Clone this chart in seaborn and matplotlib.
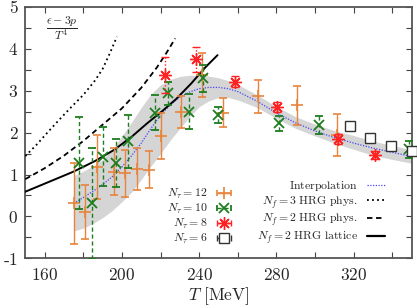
import numpy as np
import matplotlib
matplotlib.use("Agg")
import matplotlib.pyplot as plt
import seaborn as sns
from matplotlib.ticker import MultipleLocator, FuncFormatter
from matplotlib.container import ErrorbarContainer
from matplotlib.legend_handler import HandlerErrorbar
from matplotlib.lines import Line2D

# ---------------- data ----------------
# N_tau = 12
t12 = [175.2, 181.1, 187.0, 196.0, 201.7, 207.7, 214.2, 220.3, 230.7, 241.4, 252.1, 270.7, 290.6, 311.3]
v12 = [0.31, 0.11, 1.18, 1.07, 1.03, 1.13, 1.11, 1.93, 2.50, 3.38, 2.48, 2.87, 2.65, 1.95]
e12 = [0.96, 0.64, 0.77, 0.56, 0.56, 0.50, 0.44, 0.55, 0.38, 0.52, 0.34, 0.39, 0.47, 0.50]
# N_tau = 10
t10 = [178.0, 184.4, 190.4, 197.0, 203.4, 217.2, 224.1, 234.5, 242.2, 249.5, 281.1, 302.2, 348.8]
v10 = [1.27, 0.31, 1.43, 1.28, 1.79, 2.48, 2.94, 2.50, 3.30, 2.42, 2.22, 2.18, 1.60]
e10 = [1.10, 1.32, 0.70, 0.58, 0.63, 0.41, 0.28, 0.42, 0.32, 0.20, 0.18, 0.22, 0.20]
# N_tau = 8
t8 = [222.4, 238.4, 258.3, 280.3, 311.9, 331.2]
v8 = [3.38, 3.75, 3.22, 2.62, 1.84, 1.47]
e8 = [0.43, 0.30, 0.13, 0.12, 0.12, 0.10]
# N_tau = 6
t6 = [318.2, 328.6, 339.5, 350.0]
v6 = [2.17, 1.88, 1.69, 1.56]
e6 = [0.05, 0.05, 0.05, 0.05]

# interpolation and its band
it = [175, 180, 185, 190, 195, 200, 205, 210, 215, 220, 225, 230, 235, 240, 245, 250,
      255, 260, 270, 280, 290, 300, 310, 320, 330, 340, 350]
iv = [0.31, 0.45, 0.60, 0.76, 0.95, 1.18, 1.45, 1.75, 2.10, 2.42, 2.66, 2.85, 2.97, 3.05,
      3.08, 3.08, 3.05, 2.98, 2.75, 2.47, 2.23, 2.04, 1.88, 1.75, 1.63, 1.53, 1.43]
ilo = [-0.35, -0.28, -0.17, -0.03, 0.14, 0.35, 0.58, 0.88, 1.20, 1.50, 1.82, 2.10, 2.38,
       2.62, 2.76, 2.84, 2.84, 2.78, 2.60, 2.34, 2.10, 1.92, 1.75, 1.60, 1.46, 1.36, 1.27]
ihi = [0.97, 1.08, 1.20, 1.36, 1.60, 1.92, 2.25, 2.60, 2.92, 3.14, 3.27, 3.34, 3.37, 3.37,
       3.35, 3.31, 3.24, 3.15, 2.90, 2.62, 2.38, 2.20, 2.05, 1.93, 1.80, 1.69, 1.59]

# HRG curves
hrg3_t = [150, 156, 162, 168, 174, 180, 186, 190, 194, 197.4]
hrg3_v = [1.44, 1.72, 2.03, 2.33, 2.62, 2.90, 3.24, 3.52, 3.92, 4.29]
hrg2p_t = [150, 160, 170, 180, 190, 200, 210, 218, 223, 227.6]
hrg2p_v = [0.89, 1.15, 1.45, 1.80, 2.19, 2.58, 3.07, 3.55, 3.90, 4.25]
hrg2l_t = [150, 162, 175, 186, 196, 205, 213, 221, 228, 236, 243, 249.5]
hrg2l_v = [0.59, 0.82, 1.07, 1.32, 1.59, 1.90, 2.22, 2.52, 2.80, 3.18, 3.55, 3.85]

labels_nt = [r"$N_\tau = 12$", r"$N_\tau = 10$", r"$N_\tau = 8$", r"$N_\tau = 6$"]
labels_lines = [r"$\mathrm{Interpolation}$", r"$N_f = 3\ \mathrm{HRG\ phys.}$",
                r"$N_f = 2\ \mathrm{HRG\ phys.}$", r"$N_f = 2\ \mathrm{HRG\ lattice}$"]

# ---------------- styling ----------------
sns.set_theme(style="ticks")
plt.rcParams["font.family"] = ["DejaVu Serif"]
plt.rcParams["mathtext.fontset"] = "cm"

orange = "#E8843C"
green = "#1E7D1E"
red = "#FF2222"
blue = "#4848F0"
sq = "#333333"

fig = plt.figure(figsize=(4.17, 3.08), dpi=100)
ax = fig.add_axes([0.0607, 0.1614, 0.9266, 0.8159])

ax.fill_between(it, ilo, ihi, color="#d5d5d5", lw=0, zorder=1)
sns.lineplot(x=it, y=iv, ax=ax, color=blue, lw=0.9, linestyle=(0, (1, 1.2)), zorder=2,
             estimator=None, errorbar=None)
sns.lineplot(x=hrg3_t, y=hrg3_v, ax=ax, color="black", lw=1.3, linestyle=(0, (1, 1.8)),
             zorder=3, estimator=None, errorbar=None)
sns.lineplot(x=hrg2p_t, y=hrg2p_v, ax=ax, color="black", lw=1.3, linestyle=(0, (3, 2)),
             zorder=3, estimator=None, errorbar=None)
sns.lineplot(x=hrg2l_t, y=hrg2l_v, ax=ax, color="black", lw=1.4, linestyle="-",
             zorder=3, estimator=None, errorbar=None)

star = (8, 2, 0)
e = ax.errorbar(t12, v12, yerr=e12, fmt="+", color=orange, ms=8, mew=1.2,
                elinewidth=1.0, capsize=3, capthick=1.0, zorder=5)
e = ax.errorbar(t10, v10, yerr=e10, fmt="x", color=green, ms=6.5, mew=1.3,
                elinewidth=1.0, capsize=3, capthick=1.0, zorder=6)
e[2][0].set_linestyle((0, (3, 2)))
e = ax.errorbar(t8, v8, yerr=e8, marker=star, linestyle="none", color=red, ms=9, mew=1.0,
                elinewidth=1.0, capsize=3, capthick=1.0, zorder=7)
e[2][0].set_linestyle((0, (1, 1.5)))
e = ax.errorbar(t6, v6, yerr=e6, marker="s", linestyle="none", color=sq, mfc="white",
                ms=6.5, mew=1.0, elinewidth=0.8, capsize=1.5, capthick=0.8, zorder=8,
                clip_on=False)

# dummy handles (outside the view) for gnuplot-like horizontal legend samples
d12 = ax.errorbar([0], [0], xerr=[1], fmt="+", color=orange, ms=8, mew=1.2,
                  elinewidth=1.0, capsize=2.5)
d10 = ax.errorbar([0], [0], xerr=[1], fmt="x", color=green, ms=6.5, mew=1.3,
                  elinewidth=1.0, capsize=2.5)
d10[2][0].set_linestyle((0, (3, 2)))
d8 = ax.errorbar([0], [0], xerr=[1], marker=star, linestyle="none", color=red, ms=9,
                 mew=1.0, elinewidth=1.0, capsize=2.5)
d8[2][0].set_linestyle((0, (1, 1.5)))
d6 = ax.errorbar([0], [0], xerr=[1], marker="s", linestyle="none", color=sq, mfc="white",
                 ms=6.5, mew=1.0, elinewidth=1.0, capsize=2.5)
d6[2][0].set_linestyle((0, (1, 1.5)))

lh = [Line2D([], [], color=blue, lw=0.9, linestyle=(0, (1, 1.2))),
      Line2D([], [], color="black", lw=1.3, linestyle=(0, (1, 1.8))),
      Line2D([], [], color="black", lw=1.3, linestyle=(0, (3, 2))),
      Line2D([], [], color="black", lw=1.6, linestyle="-")]

hm = {ErrorbarContainer: HandlerErrorbar(xerr_size=0.6)}
leg1 = ax.legend(handles=[d12, d10, d8, d6], labels=labels_nt, loc="lower right",
                 bbox_to_anchor=(0.535, 0.05), markerfirst=False, frameon=False,
                 fontsize=8.5, handlelength=1.4, handletextpad=0.7, labelspacing=0.08,
                 borderpad=0, borderaxespad=0, handler_map=hm)
ax.add_artist(leg1)
leg2 = ax.legend(handles=lh, labels=labels_lines, loc="lower right",
                 bbox_to_anchor=(0.93, 0.05), markerfirst=False, frameon=False,
                 fontsize=8.5, handlelength=1.5, handletextpad=0.8, labelspacing=0.08,
                 borderpad=0, borderaxespad=0)

ax.set_xlim(150, 350)
ax.set_ylim(-1, 5)
ax.xaxis.set_major_locator(MultipleLocator(40))
ax.xaxis.set_minor_locator(MultipleLocator(20))
ax.yaxis.set_major_locator(MultipleLocator(1))
ax.yaxis.set_minor_locator(MultipleLocator(0.5))


def tick_fmt(x, p):
    if x < 0:
        return r"$\text{-}%g$" % abs(x)
    return r"$%g$" % x


fmt = FuncFormatter(tick_fmt)
ax.xaxis.set_major_formatter(fmt)
ax.yaxis.set_major_formatter(fmt)
ax.tick_params(which="both", direction="in", top=True, right=True, length=4,
               width=0.8, color="#444444", labelsize=12.5)
ax.tick_params(axis="x", pad=6)
ax.tick_params(axis="y", pad=5)
for s in ax.spines.values():
    s.set_color("#555555")
    s.set_linewidth(1.3)

ax.set_xlabel(r"$T\ \mathrm{[MeV]}$", fontsize=12.5, labelpad=1)
ax.set_ylabel("")
ax.text(0.095, 0.915, r"$\dfrac{\epsilon-3p}{T^4}$", transform=ax.transAxes,
        ha="center", va="center", fontsize=8.5)

fig.savefig("out.png", dpi=100)
